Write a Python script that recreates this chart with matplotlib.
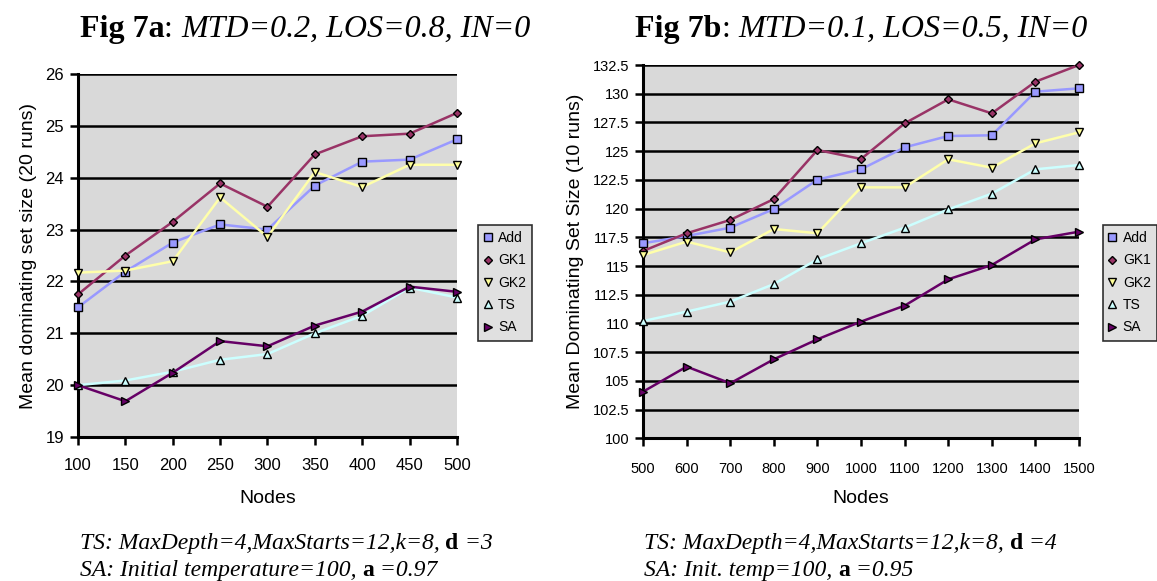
import matplotlib
matplotlib.use('Agg')
import matplotlib.pyplot as plt

#%% data
nodes_a = [100, 150, 200, 250, 300, 350, 400, 450, 500]
add_a = [21.50, 22.19, 22.75, 23.10, 23.00, 23.85, 24.31, 24.35, 24.74]
gk1_a = [21.75, 22.50, 23.15, 23.89, 23.44, 24.45, 24.80, 24.85, 25.25]
gk2_a = [22.17, 22.21, 22.39, 23.62, 22.86, 24.11, 23.82, 24.25, 24.25]
ts_a = [20.00, 20.09, 20.26, 20.49, 20.60, 21.00, 21.34, 21.88, 21.69]
sa_a = [20.00, 19.69, 20.24, 20.85, 20.75, 21.15, 21.42, 21.90, 21.80]

nodes_b = [500, 600, 700, 800, 900, 1000, 1100, 1200, 1300, 1400, 1500]
add_b = [116.98, 117.61, 118.34, 119.96, 122.52, 123.42, 125.33, 126.32, 126.38, 130.18, 130.47]
gk1_b = [116.31, 117.85, 119.01, 120.83, 125.10, 124.32, 127.42, 129.51, 128.29, 131.05, 132.50]
gk2_b = [115.96, 117.12, 116.19, 118.22, 117.85, 121.85, 121.85, 124.29, 123.56, 125.68, 126.64]
ts_b = [110.21, 111.03, 111.90, 113.43, 115.58, 116.98, 118.34, 119.93, 121.30, 123.42, 123.79]
sa_b = [104.06, 106.24, 104.79, 106.88, 108.62, 110.16, 111.55, 113.84, 115.09, 117.32, 117.99]

labels = ['Add', 'GK1', 'GK2', 'TS', 'SA']
line_cols = ['#9999ff', '#993366', '#ffffaa', '#ccffff', '#660066']
face_cols = ['#9999ff', '#993366', '#ffff99', '#ccffff', '#660066']
markers = ['s', 'D', 'v', '^', '>']
msizes = [6, 4.5, 6, 6, 6]

yt_a = [19, 20, 21, 22, 23, 24, 25, 26]
yt_b = [100, 102.5, 105, 107.5, 110, 112.5, 115, 117.5, 120, 122.5, 125, 127.5, 130, 132.5]
yt_b_lab = ['100', '102.5', '105', '107.5', '110', '112.5', '115', '117.5', '120',
            '122.5', '125', '127.5', '130', '132.5']

sans = 'Liberation Sans'
serif = 'Liberation Serif'

fig = plt.figure(figsize=(11.57, 5.81), dpi=100)


def draw_panel(ax, x, series, yticks, ylabels, ylim, xlim, ylab, tsize, xpad, lpad, legpos):
    ax.set_facecolor('#d9d9d9')
    for yv in yticks[1:]:
        ax.axhline(yv, color='black', lw=1.8, zorder=1)
    for s, lab, lc, fc, m, ms in zip(series, labels, line_cols, face_cols, markers, msizes):
        ax.plot(x, s, color=lc, lw=1.8, marker=m, markersize=ms, markerfacecolor=fc,
                markeredgecolor='black', markeredgewidth=1.0, label=lab, zorder=3,
                clip_on=False)
    ax.set_xlim(xlim)
    ax.set_ylim(ylim)
    ax.set_xticks(x)
    ax.set_xticklabels([str(v) for v in x], family=sans, fontsize=tsize)
    ax.set_yticks(yticks)
    ax.set_yticklabels(ylabels, family=sans, fontsize=tsize)
    ax.spines['top'].set_visible(False)
    ax.spines['right'].set_visible(False)
    ax.spines['left'].set_linewidth(2.2)
    ax.spines['bottom'].set_linewidth(2.2)
    ax.tick_params(axis='both', direction='out', length=6, width=1.8, pad=4)
    ax.tick_params(axis='x', pad=xpad)
    ax.set_xlabel('Nodes', family=sans, fontsize=14, labelpad=lpad)
    ax.set_ylabel(ylab, family=sans, fontsize=14, labelpad=6)
    leg = fig.legend(*ax.get_legend_handles_labels(), loc='upper left',
                     bbox_to_anchor=legpos, frameon=True,
                     fancybox=False, prop={'family': sans, 'size': 10},
                     handlelength=0.5, handletextpad=0.5, borderpad=0.45,
                     borderaxespad=0, labelspacing=0.6, markerscale=0.9)
    leg.get_frame().set_edgecolor('black')
    leg.get_frame().set_facecolor('#d9d9d9')
    leg.get_frame().set_linewidth(1.2)
    for h in leg.legend_handles:
        h.set_linestyle('none')


ax1 = fig.add_axes([0.0674, 0.2478, 0.3276, 0.6248])
draw_panel(ax1, nodes_a, [add_a, gk1_a, gk2_a, ts_a, sa_a], yt_a,
           [str(v) for v in yt_a], (19, 26), (100, 500),
           'Mean dominating set size (20 runs)', 12, 9, 12, (0.413, 0.613))

ax2 = fig.add_axes([0.5558, 0.2456, 0.3768, 0.6425])
draw_panel(ax2, nodes_b, [add_b, gk1_b, gk2_b, ts_b, sa_b], yt_b, yt_b_lab,
           (100, 132.5), (500, 1500),
           'Mean Dominating Set Size (10 runs)', 10.5, 11, 10, (0.953, 0.613))


def chain(x, y, parts, size):
    # place text pieces one after another
    prev = None
    for txt, weight, style in parts:
        if prev is None:
            prev = fig.text(x, y, txt, family=serif, fontsize=size, weight=weight,
                            style=style, va='bottom', ha='left')
        else:
            prev = plt.annotate(txt, xy=(1, 0), xycoords=prev, va='bottom', ha='left',
                                family=serif, fontsize=size, weight=weight, style=style,
                                annotation_clip=False)
    return prev


chain(0.069, 0.925, [('Fig 7a', 'bold', 'normal'), (': ', 'normal', 'normal'),
                     ('MTD=0.2, LOS=0.8, IN=0', 'normal', 'italic')], 23)
chain(0.549, 0.925, [('Fig 7b', 'bold', 'normal'), (': ', 'normal', 'normal'),
                     ('MTD=0.1, LOS=0.5, IN=0', 'normal', 'italic')], 23)

chain(0.069, 0.046, [('TS: MaxDepth=4,MaxStarts=12,k=8, ', 'normal', 'italic'),
                     ('d', 'bold', 'normal'), (' =3', 'normal', 'italic')], 17)
chain(0.069, 0.000, [('SA: Initial temperature=100, ', 'normal', 'italic'),
                     ('a', 'bold', 'normal'), (' =0.97', 'normal', 'italic')], 17)
chain(0.557, 0.046, [('TS: MaxDepth=4,MaxStarts=12,k=8, ', 'normal', 'italic'),
                     ('d', 'bold', 'normal'), (' =4', 'normal', 'italic')], 17)
chain(0.557, 0.000, [('SA: Init. temp=100, ', 'normal', 'italic'),
                     ('a', 'bold', 'normal'), (' =0.95', 'normal', 'italic')], 17)

fig.savefig('out.png', dpi=100)
